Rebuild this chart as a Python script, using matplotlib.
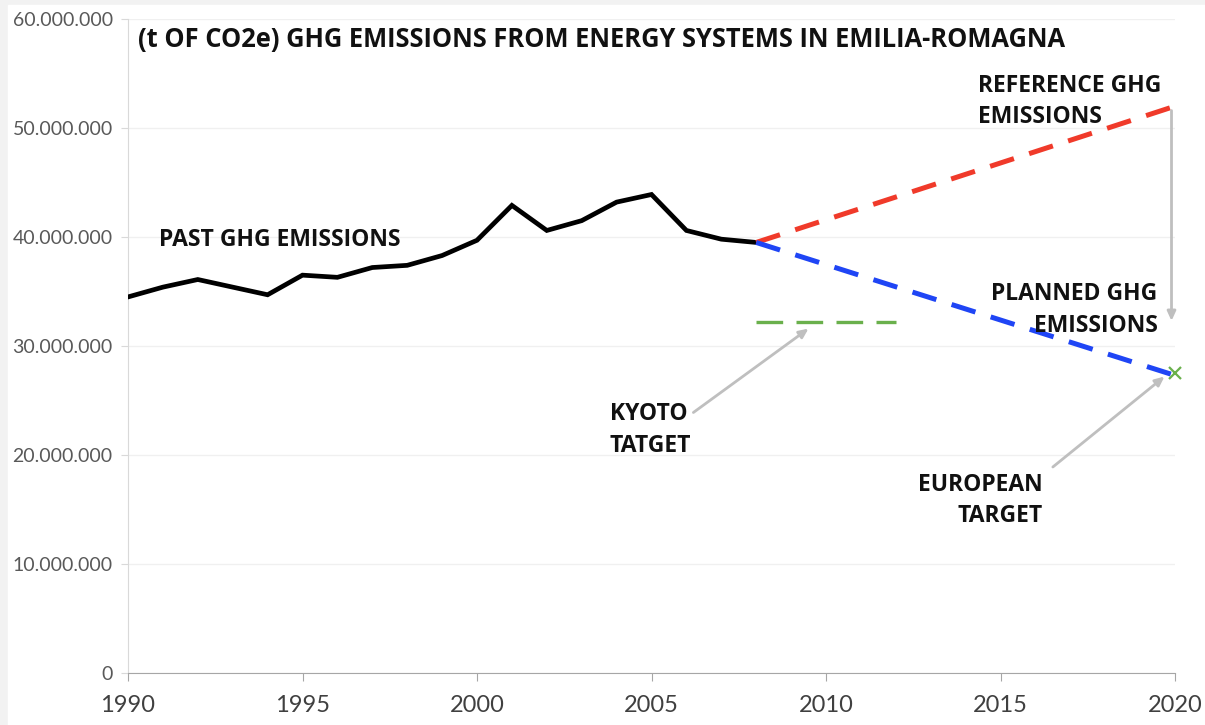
import matplotlib.pyplot as plt
import numpy as np

# past emissions (t CO2e)
years = [1990, 1991, 1992, 1993, 1994, 1995, 1996, 1997, 1998, 1999,
         2000, 2001, 2002, 2003, 2004, 2005, 2006, 2007, 2008]
past = [34.5, 35.4, 36.1, 35.4, 34.7, 36.5, 36.3, 37.2, 37.4, 38.3,
        39.7, 42.9, 40.6, 41.5, 43.2, 43.9, 40.6, 39.8, 39.5]
past = [v * 1e6 for v in past]

scen_years = [2008, 2020]
reference = [39.5e6, 52.0e6]
planned = [39.5e6, 27.3e6]
kyoto_years = [2008, 2012]
kyoto = [32.2e6, 32.2e6]
europe_year = 2020
europe = 27.5e6

yticks = [0, 10e6, 20e6, 30e6, 40e6, 50e6, 60e6]
ytick_labels = ["0", "10.000.000", "20.000.000", "30.000.000",
                "40.000.000", "50.000.000", "60.000.000"]
xticks = [1990, 1995, 2000, 2005, 2010, 2015, 2020]

fig = plt.figure(figsize=(12.05, 7.25), dpi=100, facecolor="#f2f2f2")
# white panel behind the chart
fig.patches.append(plt.Rectangle((8 / 1205, 0), 1 - 8 / 1205, 1 - 5 / 725,
                                 transform=fig.transFigure, color="white", zorder=-10))

ax = fig.add_axes([128 / 1205, 52 / 725, (1175 - 128) / 1205, (673 - 19) / 725])
ax.set_facecolor("none")
ax.set_zorder(2)

ax.plot(years, past, color="black", lw=3.4, solid_joinstyle="miter", zorder=3)
ax.plot(scen_years, reference, color="#f03a2a", lw=3.6, dashes=(5, 3.2), zorder=3)
ax.plot(scen_years, planned, color="#1f45f5", lw=3.6, dashes=(5, 3.2), zorder=3)
ax.plot(kyoto_years, kyoto, color="#6ab04c", lw=2.4, dashes=(8, 4), zorder=3)
ax.plot([europe_year], [europe], marker="x", color="#6ab04c", ms=8, mew=1.6,
        clip_on=False, zorder=4)

ax.set_xlim(1990, 2020)
ax.set_ylim(0, 60e6)
ax.set_yticks(yticks)
ax.set_yticklabels(ytick_labels)
ax.set_xticks(xticks)
ax.grid(axis="y", color="#f0f0f0", lw=1)
ax.set_axisbelow(True)

for s in ["top", "right"]:
    ax.spines[s].set_visible(False)
ax.spines["left"].set_color("#d9d9d9")
ax.spines["bottom"].set_color("#a6a6a6")
ax.tick_params(axis="y", colors="#d9d9d9", labelcolor="#595959", length=5,
               labelsize=14, pad=6)
ax.tick_params(axis="x", colors="#a6a6a6", labelcolor="#404040", length=6,
               labelsize=17, pad=10)
for lab in ax.get_yticklabels() + ax.get_xticklabels():
    lab.set_family("Lato")

bold = dict(family="Open Sans", fontweight="bold", color="#111111")
ax.text(1990.3, 58.1e6,
        "(t OF CO2e) GHG EMISSIONS FROM ENERGY SYSTEMS IN EMILIA-ROMAGNA",
        fontsize=18.4, va="center", ha="left", **bold)
ax.text(1990.9, 39.7e6, "PAST GHG EMISSIONS", fontsize=16.5, va="center", **bold)
ax.text(2014.35, 52.4e6, "REFERENCE GHG\nEMISSIONS", fontsize=16.5,
        va="center", ha="left", linespacing=1.4, **bold)
ax.text(2019.5, 33.3e6, "PLANNED GHG\nEMISSIONS", fontsize=16.5,
        va="center", ha="right", multialignment="right", linespacing=1.4, **bold)
ax.text(2003.8, 22.3e6, "KYOTO\nTATGET", fontsize=16.5, va="center", ha="left",
        linespacing=1.4, **bold)
ax.text(2016.2, 15.85e6, "EUROPEAN\nTARGET", fontsize=16.5, va="center", ha="right",
        multialignment="right", linespacing=1.4, **bold)

arrow = dict(arrowstyle="-|>,head_length=0.55,head_width=0.25", color="#bfbfbf",
             lw=2.0, shrinkA=0, shrinkB=0)
ax.annotate("", xy=(2019.9, 32.3e6), xytext=(2019.9, 51.6e6), arrowprops=arrow)
ax.annotate("", xy=(2009.5, 31.6e6), xytext=(2006.2, 23.9e6), arrowprops=arrow)
ax.annotate("", xy=(2019.7, 27.2e6), xytext=(2016.5, 18.9e6), arrowprops=arrow)

fig.savefig("out.png", dpi=100, facecolor=fig.get_facecolor())
